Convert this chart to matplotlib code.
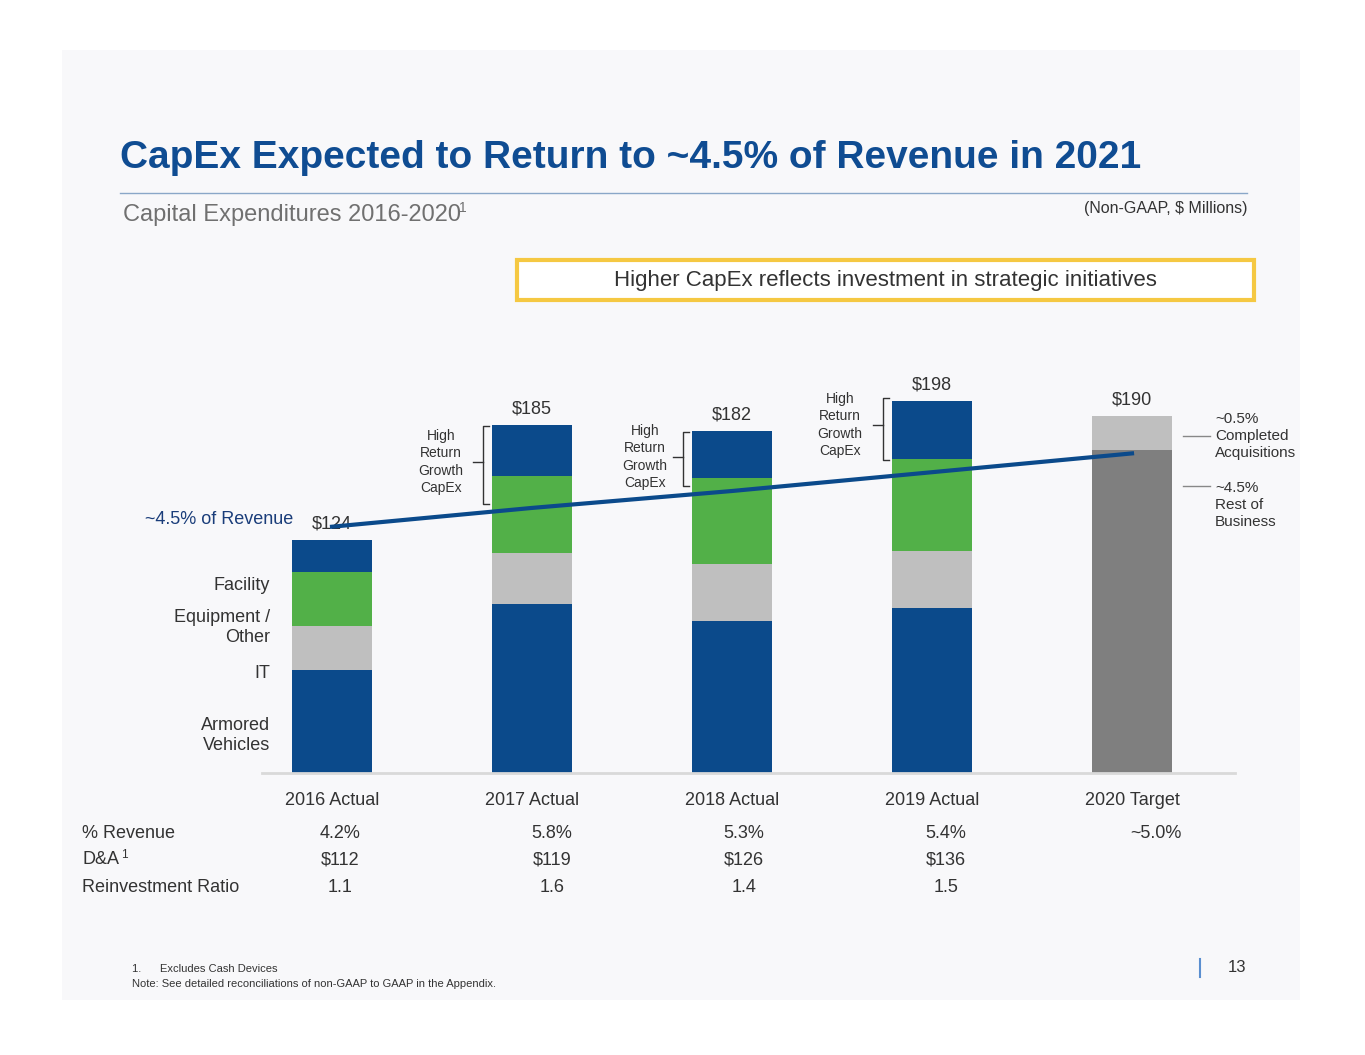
import matplotlib
matplotlib.use("Agg")
import matplotlib.pyplot as plt
from matplotlib.patches import Rectangle
from matplotlib.lines import Line2D

plt.rcParams['font.family'] = ['Liberation Sans', 'DejaVu Sans']

categories = ["2016 Actual", "2017 Actual", "2018 Actual", "2019 Actual", "2020 Target"]
armored = [55, 90, 81, 88, 0]
it = [23, 27, 30, 30, 0]
equipment = [29, 41, 46, 49, 0]
growth = [17, 27, 25, 31, 0]
rest_2020 = [0, 0, 0, 0, 172]
acq_2020 = [0, 0, 0, 0, 18]
totals = ["$124", "$185", "$182", "$198", "$190"]
revenue_line = [131, 141, 150, 160, 170]
pct_revenue = ["4.2%", "5.8%", "5.3%", "5.4%", "~5.0%"]
da = ["$112", "$119", "$126", "$136", ""]
reinvest = ["1.1", "1.6", "1.4", "1.5", ""]

W, H = 1365, 1055
fig = plt.figure(figsize=(W/100, H/100), dpi=100, facecolor='white')
def P(x, y): return (x/W, 1-y/H)

bg = Rectangle(P(62, 1000), (1300-62)/W, (1000-50)/H, transform=fig.transFigure,
               facecolor='#f8f8fa', edgecolor='none', zorder=-10)
fig.patches.append(bg)

BLUE = '#0b4a8b'; GREEN = '#52b048'; GRAY = '#bfbfbf'; DGRAY = '#7f7f7f'

left, right, bot, top = 262, 1235, 773, 340
ax = fig.add_axes([left/W, 1-bot/H, (right-left)/W, (bot-top)/H])
ax.set_facecolor('none')
ax.set_xlim((left-332)/200, (right-332)/200)
ax.set_ylim(0, (bot-top)/1.88)
x = list(range(len(categories)))
bw = 0.4
b = [0]*5
for vals, col in [(armored, BLUE), (it, GRAY), (equipment, GREEN), (growth, BLUE), (rest_2020, DGRAY), (acq_2020, GRAY)]:
    ax.bar(x, vals, bw, bottom=b, color=col, linewidth=0)
    b = [bi+vi for bi, vi in zip(b, vals)]
for xi, t, h in zip(x, totals, b):
    ax.text(xi - (0.0 if xi else -0.0), h + 4, t, ha='center', va='bottom', fontsize=13, color='#333333')
ax.plot(x, revenue_line, color=BLUE, lw=3, zorder=5)
for s in ax.spines.values(): s.set_visible(False)
ax.spines['bottom'].set_visible(True); ax.spines['bottom'].set_color('#d9d9d9'); ax.spines['bottom'].set_linewidth(2)
ax.set_xticks(x); ax.set_xticklabels(categories, fontsize=13, color='#333333')
ax.tick_params(axis='x', length=0, pad=14)
ax.set_yticks([])

def T(xp, yp, s, **kw): fig.text(*P(xp, yp), s, **kw)
T(120, 158, "CapEx Expected to Return to ~4.5% of Revenue in 2021", fontsize=28, fontweight='bold', color='#0f4c92', va='center')
fig.add_artist(Line2D([120/W, 1247/W], [1-193/H]*2, color='#8aa7c8', lw=1))
T(123, 215, "Capital Expenditures 2016-2020", fontsize=17, color='#707070', va='center')
T(459, 208, "1", fontsize=10, color='#707070', va='center')
T(1248, 209, "(Non-GAAP, $ Millions)", fontsize=11.5, color='#333333', va='center', ha='right')
box = Rectangle(P(517, 300), (1254-517)/W, (300-260)/H, transform=fig.transFigure,
                facecolor='white', edgecolor='#f5c842', lw=3)
fig.patches.append(box)
T(885, 280, "Higher CapEx reflects investment in strategic initiatives", fontsize=16, color='#333333', ha='center', va='center')

T(293, 520, "~4.5% of Revenue", fontsize=13, color='#1a3d7a', ha='right', va='center')
for yp, s in [(585, "Facility"), (617, "Equipment /"), (638, "Other"), (674, "IT"), (725, "Armored"), (746, "Vehicles")]:
    T(270, yp, s, fontsize=13, color='#333333', ha='right', va='center')

def bracket(xb, y0, y1, xt, ym):
    fig.add_artist(Line2D([(xb+6)/W, xb/W, xb/W, (xb+6)/W], [1-y0/H, 1-y0/H, 1-y1/H, 1-y1/H], color='#333333', lw=1))
    fig.add_artist(Line2D([(xb-10)/W, xb/W], [1-ym/H]*2, color='#333333', lw=1))
    T(xt, ym, "High\nReturn\nGrowth\nCapEx", fontsize=10, color='#333333', ha='center', va='center', linespacing=1.3)
bracket(483, 426, 504, 441, 462)
bracket(683, 432, 486, 645, 457)
bracket(883, 398, 460, 840, 425)

fig.add_artist(Line2D([1183/W, 1210/W], [1-436/H]*2, color='#888888', lw=1))
fig.add_artist(Line2D([1183/W, 1210/W], [1-486/H]*2, color='#888888', lw=1))
T(1215, 436, "~0.5%\nCompleted\nAcquisitions", fontsize=11, color='#333333', va='center', linespacing=1.3)
T(1215, 505, "~4.5%\nRest of\nBusiness", fontsize=11, color='#333333', va='center', linespacing=1.3)

xs = [340, 552, 744, 946, 1156]
rows = [(833, "% Revenue", pct_revenue), (860, "D&A", da), (887, "Reinvestment Ratio", reinvest)]
for yp, lab, vals in rows:
    T(82, yp, lab, fontsize=13, color='#333333', va='center')
    for xp, v in zip(xs, vals):
        T(xp, yp, v, fontsize=13, color='#333333', va='center', ha='center')
T(121, 855, "1", fontsize=8.5, color='#333333', va='center')

T(132, 969, "1.      Excludes Cash Devices", fontsize=8, color='#333333', va='center')
T(132, 984, "Note: See detailed reconciliations of non-GAAP to GAAP in the Appendix.", fontsize=8, color='#333333', va='center')
fig.add_artist(Line2D([1200/W]*2, [1-959/H, 1-977/H], color='#5b8fd0', lw=1.5))
T(1246, 968, "13", fontsize=12, color='#333333', va='center', ha='right')

fig.savefig("out.png", dpi=100, facecolor='white')
